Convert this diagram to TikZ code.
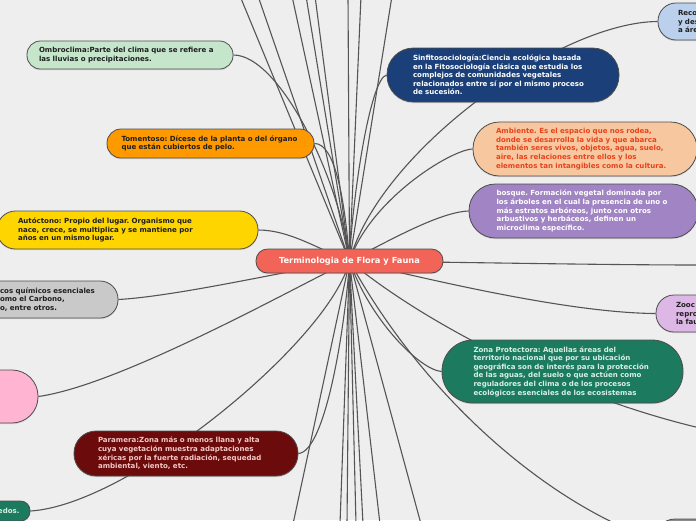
\documentclass[tikz,border=0pt]{standalone}
\usepackage{fontspec}
\setmainfont{DejaVu Sans}
\usetikzlibrary{backgrounds,shadows}
\definecolor{bg}{HTML}{EEEEEE}
\definecolor{bdr}{HTML}{4D4D4D}
\definecolor{lnk}{HTML}{555555}
\definecolor{cOmbro}{HTML}{C6E6CC}
\definecolor{cTomen}{HTML}{FF9900}
\definecolor{cAuto}{HTML}{FFD500}
\definecolor{cGrey}{HTML}{C9C9C9}
\definecolor{cPink}{HTML}{FFB5D1}
\definecolor{cPara}{HTML}{6B0B0B}
\definecolor{tPara}{HTML}{F3C7C7}
\definecolor{cGreen}{HTML}{1C7A5F}
\definecolor{tGreen}{HTML}{D8F0E4}
\definecolor{cBlueL}{HTML}{BBD0EC}
\definecolor{cSinf}{HTML}{1B3F78}
\definecolor{cAmb}{HTML}{F7C8A0}
\definecolor{tAmb}{HTML}{E8421A}
\definecolor{cBosq}{HTML}{A184C3}
\definecolor{cZoo}{HTML}{DDB8E6}
\definecolor{cCtr}{HTML}{F26457}
\definecolor{cBR}{HTML}{8C8C8C}
\definecolor{tDark}{HTML}{1F1F1F}
\newcommand\tx{\fontsize{7.05}{8.6}\selectfont\bfseries\frenchspacing\hyphenpenalty=10000\exhyphenpenalty=10000}
\begin{document}
\begin{tikzpicture}[x=1pt,y=-1pt,
  box/.style={draw=bdr, line width=0.8pt, inner xsep=0pt, inner ysep=0pt,
    align=left, font=\tx, text=tDark,
    drop shadow={shadow xshift=0pt, shadow yshift=-1.2pt, opacity=0.25}},
  lk/.style={draw=lnk, line width=1.1pt}]
\useasboundingbox (0,0) rectangle (696,520);

% children
\node[box, fill=cOmbro, rounded corners=13.5pt, minimum width=206pt, minimum height=28pt, text width=182pt] (ombro) at (130,55)
  {Ombroclima:Parte del clima que se refiere a\\las lluvias o precipitaciones.};
\node[box, fill=cTomen, rounded corners=14pt, minimum width=207pt, minimum height=29pt, text width=178pt] (tomen) at (210.5,143.5)
  {Tomentoso: Dícese de la planta o del órgano\\que están cubiertos de pelo.};
\node[box, fill=cAuto, rounded corners=18.5pt, minimum width=261pt, minimum height=38pt, text width=219pt] (auto) at (127.5,230)
  {Autóctono: Propio del lugar. Organismo que\\nace, crece, se multiplica y se mantiene por\\años en un mismo lugar.};
\node[box, fill=cGrey, rounded corners=18pt, minimum width=138pt, minimum height=37pt, text width=98pt] (grey) at (49,299.5)
  {cos químicos esenciales\\omo el Carbono,\\o, entre otros.};
\node[box, fill=cPink, rounded corners=26pt, minimum width=78pt, minimum height=53pt] (pink) at (-1,396.5) {};
\node[box, fill=cPara, text=tPara, rounded corners=22pt, minimum width=224pt, minimum height=45pt, text width=176pt] (para) at (186,453.5)
  {Paramera:Zona más o menos llana y alta\\cuya vegetación muestra adaptaciones\\xéricas por la fuerte radiación, sequedad\\ambiental, viento, etc.};
\node[box, fill=cGreen, text=tGreen, rounded corners=9.5pt, minimum width=42pt, minimum height=20pt, text width=22pt] (gbl) at (9,511)
  {edos.};
\node[box, fill=cBlueL, rounded corners=18pt, minimum width=82pt, minimum height=37pt, text width=42pt] (tr) at (699,21.5)
  {Reco\\y des\\a áre};
\node[box, fill=cSinf, text=white, rounded corners=26.5pt, minimum width=232pt, minimum height=54pt, text width=180pt] (sinf) at (503,75)
  {Sinfitosociología:Ciencia ecológica basada\\en la Fitosociología clásica que estudia los\\complejos de comunidades vegetales\\relacionados entre sí por el mismo proceso\\de sucesión.};
\node[box, fill=cAmb, text=tAmb, rounded corners=26.5pt, minimum width=224pt, minimum height=54pt, text width=178pt] (amb) at (585,149)
  {Ambiente. Es el espacio que nos rodea,\\donde se desarrolla la vida y que abarca\\también seres vivos, objetos, agua, suelo,\\aire, las relaciones entre ellos y los\\elementos tan intangibles como la cultura.};
\node[box, fill=cBosq, text=white, rounded corners=26.5pt, minimum width=229pt, minimum height=54pt, text width=174pt] (bosq) at (583.5,211)
  {bosque. Formación vegetal dominada por\\los árboles en el cual la presencia de uno o\\más estratos arbóreos, junto con otros\\arbustivos y herbáceos, definen un\\microclima específico.};
\node[box, fill=cZoo, rounded corners=18pt, minimum width=84pt, minimum height=37pt, text width=44pt] (zoo) at (698,313.5)
  {Zooc\\repro\\la fau};
\node[box, fill=cGreen, text=tGreen, rounded corners=31pt, minimum width=241pt, minimum height=63pt, text width=178pt] (zona) at (562.5,371.5)
  {Zona Protectora: Aquellas áreas del\\territorio nacional que por su ubicación\\geográfica son de interés para la protección\\de las aguas, del suelo o que actúen como\\reguladores del clima o de los procesos\\ecológicos esenciales de los ecosistemas};
\node[box, fill=cBR, rounded corners=20pt, minimum width=120pt, minimum height=42pt] (br) at (715,540) {};

% centre
\node[box, fill=cCtr, text=white, rounded corners=11.5pt, minimum width=187pt, minimum height=24pt, align=center,
  font=\fontsize{8.3}{10}\selectfont\bfseries] (ctr) at (349.5,261) {Terminologia de Flora y Fauna};

% off-canvas ends
\foreach \n/\x in {t1/240,t2/258,t3/292,t4/306,t5/315,t6/348,t7/361,t8/392}
  \coordinate (\n) at (\x,-4);
\foreach \n/\x in {b1/293,b2/340,b3/347,b4/356,b5/363,b6/380,b7/421}
  \coordinate (\n) at (\x,524);
\coordinate (rE) at (700,265);
\coordinate (rL) at (700,428);

\begin{pgfonlayer}{background}
\fill[bg] (0,0) rectangle (696,520);
\foreach \n in {t1,t2,t3,t4,t5,t6,t7,t8,b1,b2,b3,b4,b5,b6,b7}
  \draw[lk] (ctr.center) -- (\n);
\draw[lk] (ctr.center) .. controls (340,180) and (280,55) .. (ombro.east);
\draw[lk] (ctr.center) .. controls (345,200) and (335,143) .. (tomen.east);
\draw[lk] (ctr.center) .. controls (320,250) and (290,230) .. (auto.east);
\draw[lk] (ctr.center) .. controls (300,268) and (180,296) .. (grey.east);
\draw[lk] (ctr.center) .. controls (290,290) and (120,385) .. (pink.east);
\draw[lk] (ctr.center) .. controls (345,330) and (325,452) .. (para.east);
\draw[lk] (ctr.center) .. controls (330,340) and (130,505) .. (gbl.east);
\draw[lk] (ctr.center) .. controls (380,150) and (560,22) .. (tr.west);
\draw[lk] (ctr.center) .. controls (352,200) and (370,78) .. (sinf.west);
\draw[lk] (ctr.center) .. controls (370,200) and (450,150) .. (amb.west);
\draw[lk] (ctr.center) .. controls (390,240) and (440,212) .. (bosq.west);
\draw[lk] (ctr.center) .. controls (450,262) and (600,265) .. (rE);
\draw[lk] (ctr.center) .. controls (400,272) and (560,313) .. (zoo.west);
\draw[lk] (ctr.center) .. controls (370,320) and (420,370) .. (zona.west);
\draw[lk] (ctr.center) .. controls (420,320) and (560,395) .. (rL);
\draw[lk] (ctr.center) .. controls (420,390) and (540,500) .. (br.west);
\end{pgfonlayer}
\end{tikzpicture}
\end{document}
